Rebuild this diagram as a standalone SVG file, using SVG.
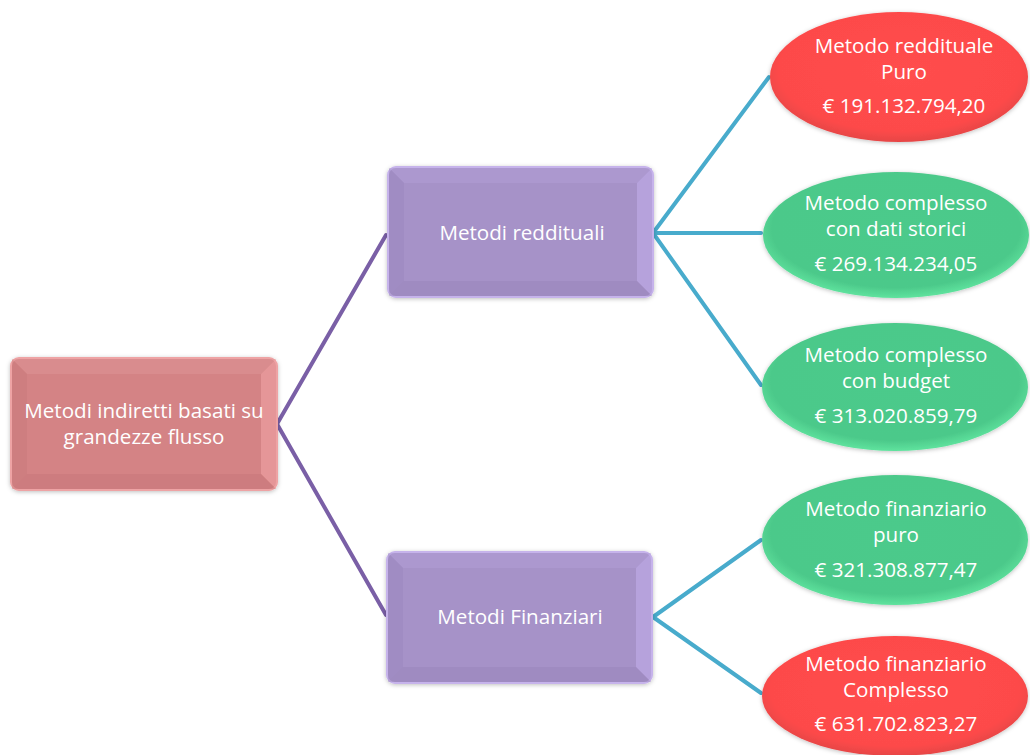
<svg xmlns="http://www.w3.org/2000/svg" width="1030" height="755" viewBox="0 0 1030 755">
<style>
.t{font-family:"Open Sans","Noto Sans","Liberation Sans",sans-serif;font-size:20.6px;fill:#ffffff;text-anchor:middle}
.cp{stroke:#7a5fa6;stroke-width:4;fill:none;stroke-linecap:round}
.cb{stroke:#48abcc;stroke-width:4;fill:none;stroke-linecap:round}
</style>
<defs>
<filter id="sh" x="-10%" y="-10%" width="120%" height="130%">
<feDropShadow dx="0" dy="1" stdDeviation="2" flood-color="#000" flood-opacity="0.25"/>
</filter>
<radialGradient id="gr" cx="50%" cy="45%" r="55%">
<stop offset="0" stop-color="#ff4d4d"/>
<stop offset="0.85" stop-color="#fd4a4a"/>
<stop offset="1" stop-color="#e64545"/>
</radialGradient>
<radialGradient id="gg" cx="50%" cy="45%" r="55%">
<stop offset="0" stop-color="#4cca8b"/>
<stop offset="0.85" stop-color="#4cc98a"/>
<stop offset="1" stop-color="#5fe39e"/>
</radialGradient>
</defs>

<g id="connectors">
<line class="cp" x1="277" y1="424" x2="386" y2="235"/>
<line class="cp" x1="277" y1="424" x2="386" y2="615"/>
<line class="cb" x1="653" y1="233" x2="769" y2="77"/>
<line class="cb" x1="653" y1="233" x2="761" y2="233"/>
<line class="cb" x1="653" y1="233" x2="761" y2="385"/>
<line class="cb" x1="653" y1="617" x2="761" y2="540"/>
<line class="cb" x1="653" y1="617" x2="761" y2="693"/>
</g>

<g id="root">
<rect x="11" y="358" width="266" height="132" rx="8" fill="#d48385" stroke="#eea3a4" stroke-width="2" filter="url(#sh)"/>
<polygon points="12,359 276,359 261,374 27,374" fill="#e0979a" opacity="0.45"/>
<polygon points="276,359 276,489 261,474 261,374" fill="#f0a3a5" opacity="0.6"/>
<polygon points="12,359 27,374 27,474 12,489" fill="#c67879" opacity="0.4"/>
<polygon points="12,489 27,474 261,474 276,489" fill="#c47376" opacity="0.4"/>
<rect x="27" y="374" width="234" height="100" fill="#d48385"/>
<text class="t" x="144" y="418">Metodi indiretti basati su</text>
<text class="t" x="144" y="444">grandezze flusso</text>
</g>

<g id="redd">
<rect x="388" y="167" width="265" height="130" rx="8" fill="#a692c8" stroke="#c6b3eb" stroke-width="2" filter="url(#sh)"/>
<polygon points="389,168 652,168 637,183 404,183" fill="#b19dd5" opacity="0.5"/>
<polygon points="652,168 652,296 637,281 637,183" fill="#bfaae6" opacity="0.65"/>
<polygon points="389,168 404,183 404,281 389,296" fill="#9985bb" opacity="0.4"/>
<polygon points="389,296 404,281 637,281 652,296" fill="#9781b6" opacity="0.4"/>
<rect x="404" y="183" width="233" height="98" fill="#a692c8"/>
<text class="t" x="522" y="240">Metodi reddituali</text>
</g>

<g id="fin">
<rect x="387" y="552" width="265" height="131" rx="8" fill="#a692c8" stroke="#c6b3eb" stroke-width="2" filter="url(#sh)"/>
<polygon points="388,553 651,553 636,568 403,568" fill="#b19dd5" opacity="0.5"/>
<polygon points="651,553 651,682 636,667 636,568" fill="#bfaae6" opacity="0.65"/>
<polygon points="388,553 403,568 403,667 388,682" fill="#9985bb" opacity="0.4"/>
<polygon points="388,682 403,667 636,667 651,682" fill="#9781b6" opacity="0.4"/>
<rect x="403" y="568" width="233" height="99" fill="#a692c8"/>
<text class="t" x="520" y="624">Metodi Finanziari</text>
</g>

<g id="e1">
<ellipse cx="899" cy="77" rx="129" ry="65" fill="url(#gr)" filter="url(#sh)"/>
<text class="t" x="904" y="53">Metodo reddituale</text>
<text class="t" x="904" y="79">Puro</text>
<text class="t" x="904" y="113">€ 191.132.794,20</text>
</g>

<g id="e2">
<ellipse cx="896" cy="235" rx="133" ry="63" fill="url(#gg)" filter="url(#sh)"/>
<text class="t" x="896" y="210">Metodo complesso</text>
<text class="t" x="896" y="236">con dati storici</text>
<text class="t" x="896" y="271">€ 269.134.234,05</text>
</g>

<g id="e3">
<ellipse cx="895" cy="387" rx="133" ry="64" fill="url(#gg)" filter="url(#sh)"/>
<text class="t" x="896" y="362">Metodo complesso</text>
<text class="t" x="896" y="388">con budget</text>
<text class="t" x="896" y="423">€ 313.020.859,79</text>
</g>

<g id="e4">
<ellipse cx="895" cy="540" rx="133" ry="65" fill="url(#gg)" filter="url(#sh)"/>
<text class="t" x="896" y="516">Metodo finanziario</text>
<text class="t" x="896" y="542">puro</text>
<text class="t" x="896" y="577">€ 321.308.877,47</text>
</g>

<g id="e5">
<ellipse cx="895" cy="696" rx="133" ry="60" fill="url(#gr)" filter="url(#sh)"/>
<text class="t" x="896" y="671">Metodo finanziario</text>
<text class="t" x="896" y="697">Complesso</text>
<text class="t" x="896" y="731">€ 631.702.823,27</text>
</g>
</svg>
